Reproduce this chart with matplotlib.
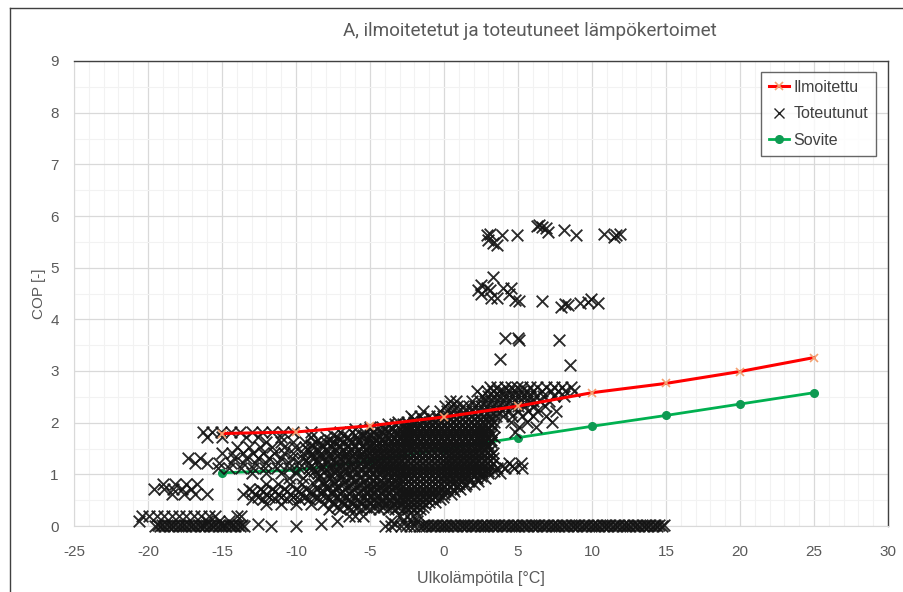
import matplotlib
matplotlib.use("Agg")
import matplotlib.pyplot as plt
from matplotlib.lines import Line2D

plt.rcParams["font.family"] = ["Liberation Sans", "DejaVu Sans"]

# Declared COP curve (manufacturer data)
ilmoitettu_t = [-15, -10, -5, 0, 5, 10, 15, 20, 25]
ilmoitettu_cop = [1.79, 1.82, 1.94, 2.11, 2.32, 2.58, 2.76, 2.99, 3.26]

# Fitted COP curve
sovite_t = [-15, -10, -5, 0, 5, 10, 15, 20, 25]
sovite_cop = [1.03, 1.08, 1.26, 1.49, 1.71, 1.93, 2.14, 2.36, 2.58]

# Measured COP values, grouped by COP level: (cop, [outdoor temperatures])
toteutunut_rows = [
    (2.70, [3.1, 3.6, 4.1, 4.5, 4.9, 5.3, 5.8, 6.3, 6.9, 7.4, 8.0, 8.6]),
    (2.62, [2.2, 2.9, 3.3, 3.7, 4.0, 4.4, 4.8, 5.2, 5.6, 6.0, 6.6, 7.2, 7.7, 8.2, 8.8]),
    (2.52, [2.6, 3.0, 3.4, 3.8, 4.2, 4.6, 5.0, 5.4, 5.8, 6.2, 6.7, 7.4, 8.1]),
    (2.42, [0.4, 0.8, 1.9, 2.4, 2.8, 3.2, 3.6, 4.0, 4.4, 4.8, 5.2, 5.6, 6.0, 6.5, 7.1]),
    (2.32, [0.1, 0.5, 0.9, 1.3, 1.7, 2.1, 2.5, 2.9, 3.3, 3.7, 4.1, 4.5, 5.0, 5.5, 6.1, 6.8]),
    (2.22, [-1.4, -0.3, 0.2, 0.6, 1.0, 1.5, 1.9, 2.3, 2.7, 3.1, 3.5, 3.9, 4.4, 5.0, 5.7, 6.3, 7.6]),
    (2.12, [-2.2, -1.6, -1.0, -0.5, -0.1, 0.3, 0.7, 1.1, 1.5, 1.9, 2.3, 2.7, 3.1, 3.5, 4.0, 4.6,
            5.3, 6.0, 6.9]),
    (2.07, [-2.0, -1.4, -0.8, -0.4, 0.0, 0.4, 0.8, 1.2, 1.6, 2.0, 2.4, 2.8, 3.2]),
    (2.02, [-3.1, -2.5, -2.0, -1.5, -1.0, -0.6, -0.2, 0.2, 0.6, 1.0, 1.4, 1.8, 2.2, 2.6, 3.0, 3.4,
            4.5, 5.6, 7.3]),
    (1.97, [-3.8, -3.3, -2.8, -2.4, -2.0, -1.6, -1.2, -0.8, -0.4, 0.0, 0.4, 0.8, 1.2, 1.6, 2.0,
            2.4, 2.8, 3.2]),
    (1.92, [-5.0, -4.2, -3.6, -3.1, -2.6, -2.2, -1.8, -1.4, -1.0, -0.6, -0.2, 0.2, 0.6, 1.0, 1.4,
            1.8, 2.2, 2.6, 3.0, 3.4, 5.1, 6.2]),
    (1.87, [-6.0, -5.0, -4.5, -4.0, -3.5, -3.0, -2.6, -2.2, -1.8, -1.4, -1.0, -0.6, -0.2, 0.2,
            0.6, 1.0, 1.4, 1.8, 2.2, 2.6, 3.0]),
    (1.82, [-16.3, -15.7, -15.1, -14.4, -13.8, -13.0, -12.3, -11.6, -10.9, -10.2, -9.0, -7.0, -6.2,
            -5.4, -4.8, -4.2, -3.7, -3.2, -2.8, -2.4, -2.0, -1.6, -1.2, -0.8, -0.4, 0.0, 0.4, 0.8,
            1.2, 1.6, 2.0, 2.4, 2.8, 3.2, 4.8]),
    (1.77, [-7.5, -6.8, -6.0, -5.5, -5.0, -4.5, -4.0, -3.6, -3.2, -2.8, -2.4, -2.0, -1.6, -1.2,
            -0.8, -0.4, 0.0, 0.4, 0.8, 1.2, 1.6, 2.0, 2.4, 2.8, 3.2]),
    (1.72, [-16.0, -15.0, -13.4, -12.6, -11.0, -9.0, -8.0, -7.2, -6.5, -5.9, -5.3, -4.8, -4.3, -3.8,
            -3.4, -3.0, -2.6, -2.2, -1.8, -1.4, -1.0, -0.6, -0.2, 0.2, 0.6, 1.0, 1.4, 1.8, 2.2,
            2.6, 3.0, 3.4]),
    (1.67, [-8.5, -7.7, -7.0, -6.4, -5.8, -5.2, -4.6, -4.1, -3.6, -3.2, -2.8, -2.4, -2.0, -1.6,
            -1.2, -0.8, -0.4, 0.0, 0.4, 0.8, 1.2, 1.6, 2.0, 2.4, 2.8, 3.2]),
    (1.62, [-12.0, -11.0, -10.2, -9.4, -8.7, -8.0, -7.4, -6.8, -6.3, -5.8, -5.3, -4.8, -4.4, -4.0,
            -3.6, -3.2, -2.8, -2.4, -2.0, -1.6, -1.2, -0.8, -0.4, 0.0, 0.4, 0.8, 1.2, 1.6, 2.0,
            2.4, 2.8, 3.2]),
    (1.57, [-9.0, -8.3, -7.7, -7.1, -6.5, -6.0, -5.5, -5.0, -4.6, -4.2, -3.8, -3.4, -3.0, -2.6,
            -2.2, -1.8, -1.4, -1.0, -0.6, -0.2, 0.2, 0.6, 1.0, 1.4, 1.8, 2.2, 2.6, 3.0]),
    (1.52, [-14.0, -13.2, -12.4, -11.6, -10.8, -10.1, -9.4, -8.8, -8.2, -7.6, -7.0, -6.5, -6.0,
            -5.5, -5.0, -4.6, -4.2, -3.8, -3.4, -3.0, -2.6, -2.2, -1.8, -1.4, -1.0, -0.6, -0.2,
            0.2, 0.6, 1.0, 1.4, 1.8, 2.2, 2.6, 3.0]),
    (1.47, [-9.2, -8.5, -7.9, -7.3, -6.8, -6.3, -5.8, -5.3, -4.9, -4.5, -4.1, -3.7, -3.3, -2.9,
            -2.5, -2.1, -1.7, -1.3, -0.9, -0.5, -0.1, 0.3, 0.7, 1.1, 1.5, 1.9, 2.3, 2.7, 3.1]),
    (1.42, [-15.0, -14.3, -13.6, -12.9, -12.2, -11.5, -10.8, -10.2, -9.5, -8.9, -8.3, -7.7, -7.1,
            -6.6, -6.1, -5.6, -5.1, -4.7, -4.3, -3.9, -3.5, -3.1, -2.7, -2.3, -1.9, -1.5, -1.1,
            -0.7, -0.3, 0.1, 0.5, 0.9, 1.3, 1.7, 2.1, 2.5, 2.9, 3.3]),
    (1.37, [-9.0, -8.4, -7.8, -7.2, -6.7, -6.2, -5.7, -5.2, -4.8, -4.4, -4.0, -3.6, -3.2, -2.8,
            -2.4, -2.0, -1.6, -1.2, -0.8, -0.4, 0.0, 0.4, 0.8, 1.2, 1.6, 2.0, 2.4, 2.8, 3.2]),
    (1.32, [-17.3, -16.5, -14.2, -13.4, -12.6, -11.8, -11.0, -10.3, -9.6, -8.9, -8.3, -7.7, -7.1,
            -6.6, -6.1, -5.6, -5.1, -4.7, -4.3, -3.9, -3.5, -3.1, -2.7, -2.3, -1.9, -1.5, -1.1,
            -0.7, -0.3, 0.1, 0.5, 0.9, 1.3, 1.7, 2.1, 2.5, 2.9, 3.3]),
    (1.27, [-9.3, -8.6, -8.0, -7.4, -6.9, -6.4, -5.9, -5.4, -4.9, -4.5, -4.1, -3.7, -3.3, -2.9,
            -2.5, -2.1, -1.7, -1.3, -0.9, -0.5, -0.1, 0.3, 0.7, 1.1, 1.5, 1.9, 2.3, 2.7, 3.1]),
    (1.22, [-16.8, -16.0, -15.2, -14.4, -13.6, -12.8, -12.0, -11.2, -10.5, -9.8, -9.1, -8.5, -7.9,
            -7.3, -6.7, -6.2, -5.7, -5.2, -4.7, -4.3, -3.9, -3.5, -3.1, -2.7, -2.3, -1.9, -1.5,
            -1.1, -0.7, -0.3, 0.1, 0.5, 0.9, 1.3, 1.7, 2.1, 2.5, 2.9, 3.3, 4.4, 5.2]),
    (1.17, [-9.0, -8.2, -7.5, -6.9, -6.3, -5.8, -5.3, -4.8, -4.4, -4.0, -3.6, -3.2, -2.8, -2.4,
            -2.0, -1.6, -1.2, -0.8, -0.4, 0.0, 0.4, 0.8, 1.2, 1.6, 2.0, 2.4, 2.8, 3.2, 3.9, 4.6]),
    (1.12, [-15.3, -14.5, -13.7, -12.9, -12.1, -11.3, -10.5, -9.8, -9.1, -8.4, -7.8, -7.2, -6.6,
            -6.1, -5.6, -5.1, -4.6, -4.2, -3.8, -3.4, -3.0, -2.6, -2.2, -1.8, -1.4, -1.0, -0.6,
            -0.2, 0.2, 0.6, 1.0, 1.4, 1.8, 2.2, 2.6, 3.0, 3.6, 4.1, 4.7, 5.3]),
    (1.07, [-8.8, -8.1, -7.4, -6.8, -6.2, -5.6, -5.1, -4.6, -4.2, -3.8, -3.4, -3.0, -2.6, -2.2,
            -1.8, -1.4, -1.0, -0.6, -0.2, 0.2, 0.6, 1.0, 1.4, 1.8, 2.2, 2.6, 3.0, 3.4]),
    (1.02, [-13.0, -12.0, -11.0, -10.0, -9.2, -8.5, -7.8, -7.1, -6.5, -5.9, -5.3, -4.8, -4.3, -3.8,
            -3.4, -3.0, -2.6, -2.2, -1.8, -1.4, -1.0, -0.6, -0.2, 0.2, 0.6, 1.0, 1.4, 1.8, 2.2,
            2.6, 3.0, 3.8]),
    (0.97, [-8.4, -7.6, -6.9, -6.2, -5.6, -5.0, -4.5, -4.0, -3.6, -3.2, -2.8, -2.4, -2.0, -1.6,
            -1.2, -0.8, -0.4, 0.0, 0.4, 0.8, 1.2, 1.6, 2.0, 2.5]),
    (0.92, [-10.5, -9.5, -8.6, -7.8, -7.0, -6.3, -5.7, -5.1, -4.6, -4.1, -3.6, -3.1, -2.7, -2.3,
            -1.9, -1.5, -1.1, -0.7, -0.3, 0.1, 0.5, 0.9, 1.3, 1.7, 2.2, 2.8]),
    (0.87, [-8.2, -7.4, -6.7, -6.0, -5.4, -4.8, -4.3, -3.8, -3.3, -2.8, -2.4, -2.0, -1.6, -1.2,
            -0.8, -0.4, 0.0, 0.4, 0.8, 1.2, 1.7, 2.3]),
    (0.82, [-19.0, -18.2, -17.4, -16.7, -12.0, -11.2, -10.4, -9.6, -8.8, -8.1, -7.4, -6.8, -6.2,
            -5.6, -5.0, -4.5, -4.0, -3.5, -3.0, -2.6, -2.2, -1.8, -1.4, -1.0, -0.6, -0.2, 0.2,
            0.6, 1.0, 1.5, 2.0]),
    (0.77, [-8.0, -7.2, -6.5, -5.9, -5.3, -4.8, -4.3, -3.8, -3.3, -2.8, -2.4, -2.0, -1.6, -1.2,
            -0.8, -0.4, 0.0, 0.4, 0.9, 1.4]),
    (0.72, [-19.6, -18.9, -18.3, -17.7, -17.1, -13.2, -12.4, -11.6, -10.8, -10.0, -9.3, -8.6, -7.9,
            -7.3, -6.7, -6.1, -5.5, -5.0, -4.5, -4.0, -3.5, -3.0, -2.6, -2.2, -1.8, -1.4, -1.0,
            -0.6, -0.2, 0.2, 0.6, 1.1]),
    (0.67, [-13.0, -12.2, -11.4, -10.6, -9.8, -9.0, -8.2, -7.5, -6.9, -6.3, -5.7, -5.2, -4.7,
            -4.2, -3.7, -3.2, -2.8, -2.4, -2.0, -1.6, -1.2, -0.8, -0.4, 0.1, 0.7]),
    (0.62, [-18.4, -17.6, -16.8, -16.0, -13.6, -12.8, -12.0, -11.2, -10.4, -9.7, -9.0, -8.3, -7.6,
            -7.0, -6.4, -5.8, -5.2, -4.7, -4.2, -3.7, -3.2, -2.8, -2.4, -2.0, -1.6, -1.2, -0.8,
            -0.4, 0.0, 0.5]),
    (0.57, [-12.6, -11.8, -11.0, -10.2, -9.4, -8.7, -8.0, -7.3, -6.7, -6.1, -5.5, -5.0, -4.5,
            -4.0, -3.5, -3.0, -2.6, -2.2, -1.8, -1.4, -1.0, -0.6, -0.1]),
    (0.52, [-13.0, -12.2, -11.4, -10.6, -9.8, -9.1, -8.4, -7.7, -7.0, -6.4, -5.8, -5.2, -4.7, -4.2,
            -3.7, -3.2, -2.8, -2.4, -2.0, -1.6, -1.2, -0.8, -0.3]),
    (0.47, [-7.5, -6.9, -6.3, -5.7, -5.1, -4.6, -4.1, -3.6, -3.1, -2.7, -2.3, -1.9, -1.5, -1.0,
            -0.6]),
    (0.42, [-12.0, -11.0, -10.0, -9.0, -8.2, -7.5, -6.8, -6.2, -5.6, -5.0, -4.4, -3.9, -3.4, -2.9,
            -2.5, -2.1, -1.7, -1.3]),
    (0.37, [-7.2, -6.5, -5.9, -5.3, -4.7, -4.1, -3.6, -3.1, -2.6, -2.2, -1.8, -1.4]),
    (0.32, [-7.8, -7.0, -6.3, -5.6, -5.0, -4.4, -3.8, -3.3, -2.8, -2.4, -2.0, -1.6]),
    (0.20, [-20.4, -19.9, -19.4, -18.9, -18.4, -17.9, -17.4, -16.9, -16.4, -15.9, -15.5, -14.0,
            -13.7, -6.4, -6.0, -5.5, -3.0, -2.5, -2.1, -1.7]),
    (0.10, [-20.6, -16.0, -15.2, -14.5, -7.2, -3.6, -2.8, -2.2, -1.8]),
    (0.04, [-12.6, -8.3, -3.3]),
    (0.00, [-19.5, -19.2, -18.9, -18.6, -18.3, -18.0, -17.7, -17.4, -17.1, -16.8, -16.5, -16.2,
            -15.9, -15.6, -15.3, -15.0, -14.7, -14.4, -14.1, -13.8, -13.5, -11.7, -10.0,
            -4.0, -3.6, -2.9, -2.6, -2.3, -2.0, -1.7, -1.5, -1.2, -0.9, -0.6, -0.3, 0.0, 0.3,
            0.6, 0.9, 1.2, 1.5, 1.8, 2.1, 2.4, 2.7, 3.0, 3.3, 3.6, 3.9, 4.2, 4.5, 4.8, 5.1, 5.4,
            5.7, 6.0, 6.3, 6.6, 6.9, 7.2, 7.5, 7.8, 8.1, 8.4, 8.7, 9.0, 9.3, 9.6, 9.9, 10.2,
            10.5, 10.8, 11.1, 11.4, 11.7, 12.0, 12.3, 12.6, 12.9, 13.2, 13.5, 13.8, 14.1, 14.4,
            14.7]),
    (0.01, [-19.35, -19.05, -18.75, -18.45, -18.15, -17.85, -17.55, -17.25, -16.95, -16.65,
            -16.35, -16.05, -15.75, -15.45, -15.15, -14.85, -14.55, -14.25, -13.95, -13.65,
            -1.35, -1.05, -0.75, -0.45, -0.15, 0.15, 0.45, 0.75, 1.05, 1.35, 1.65, 1.95, 2.25,
            2.55, 2.85, 3.15, 3.45, 3.75, 4.05, 4.35, 4.65, 4.95, 5.25, 5.55, 5.85, 6.15, 6.45,
            6.75, 7.05, 7.35, 7.65, 7.95, 8.25, 8.55, 8.85, 9.15, 9.45, 9.75, 10.05, 10.35,
            10.65, 10.95, 11.25, 11.55, 11.85, 12.15, 12.45, 12.75, 13.05, 13.35, 13.65, 13.95,
            14.25, 14.55, 14.85]),
]

# Isolated high measured values
korkea_t = [2.9, 3.1, 3.0, 3.6, 3.3, 3.9, 4.9, 6.3, 6.4, 6.6, 6.9, 7.0, 8.1, 8.9, 10.8, 11.5,
            11.6, 11.9,
            2.3, 2.5, 2.9, 3.1, 2.5, 3.3, 3.2, 3.6, 4.0, 4.4, 4.5, 4.8, 5.1, 6.6, 7.9, 8.2, 8.4,
            9.2, 9.7, 9.9, 10.4,
            4.1, 5.0, 5.1, 7.8, 3.8, 8.5]
korkea_cop = [5.63, 5.66, 5.53, 5.44, 5.47, 5.63, 5.63, 5.80, 5.82, 5.79, 5.76, 5.70, 5.73, 5.63,
              5.65, 5.60, 5.63, 5.66,
              4.57, 4.66, 4.60, 4.57, 4.50, 4.82, 4.41, 4.41, 4.60, 4.50, 4.60, 4.37, 4.36, 4.36,
              4.24, 4.30, 4.28, 4.32, 4.34, 4.40, 4.32,
              3.63, 3.63, 3.60, 3.60, 3.23, 3.12]

x_ticks = [-25, -20, -15, -10, -5, 0, 5, 10, 15, 20, 25, 30]
y_ticks = [0, 1, 2, 3, 4, 5, 6, 7, 8, 9]

title = "A, ilmoitetetut ja toteutuneet lämpökertoimet"
x_label = "Ulkolämpötila [°C]"
y_label = "COP [-]"

tot_t = [t for cop, temps in toteutunut_rows for t in temps] + korkea_t
tot_cop = [cop for cop, temps in toteutunut_rows for _ in temps] + korkea_cop

W, H = 904, 592
fig = plt.figure(figsize=(W / 100, H / 100), dpi=100)
fig.patch.set_facecolor("white")

L, R, T, B = 74, 888, 61, 526
ax = fig.add_axes([L / W, 1 - B / H, (R - L) / W, (B - T) / H])

text_col = "#595959"

ax.plot(sovite_t, sovite_cop, color="#00B050", lw=2.0, marker="o", ms=5.5,
        mfc="#0E9A52", mec="#0E9A52", zorder=2, label="Sovite")
ax.scatter(tot_t, tot_cop, marker="x", s=70, c="#141414", linewidths=1.35, alpha=0.9,
           zorder=3, clip_on=False, label="Toteutunut")
ax.plot(ilmoitettu_t, ilmoitettu_cop, color="#FF0000", lw=2.2, marker="x", ms=6,
        mec="#F4A070", mew=1.2, zorder=4, label="Ilmoitettu")

ax.set_xlim(-25, 30)
ax.set_ylim(0, 9)
ax.set_xticks(x_ticks)
ax.set_yticks(y_ticks)
ax.set_xticks([v for v in range(-25, 31)], minor=True)
ax.set_yticks([v / 2 for v in range(0, 19)], minor=True)
ax.set_xticklabels([str(v) for v in x_ticks])
ax.set_yticklabels([str(v) for v in y_ticks])
ax.grid(which="minor", color="#f2f2f2", lw=0.8, zorder=0)
ax.grid(which="major", color="#d9d9d9", lw=0.9, zorder=0)
ax.set_axisbelow(True)
ax.tick_params(which="both", length=0)
ax.tick_params(axis="x", pad=14, labelsize=11, labelcolor=text_col)
ax.tick_params(axis="y", pad=11, labelsize=11, labelcolor=text_col)

for side in ("left", "bottom"):
    ax.spines[side].set_color("#d9d9d9")
for side in ("top", "right"):
    ax.spines[side].set_color("#404040")
    ax.spines[side].set_linewidth(1.0)

ax.set_xlabel(x_label, fontsize=11.5, color=text_col, labelpad=8)
ax.set_ylabel(y_label, fontsize=11, color=text_col, labelpad=3)

fig.text(343 / W, 1 - 31 / H, title, ha="left", va="center", fontsize=13.6,
         color=text_col, family=["Roboto", "DejaVu Sans"])

handles = [
    Line2D([], [], color="#FF0000", lw=2.2, marker="x", ms=6, mec="#F4A070", mew=1.2),
    Line2D([], [], ls="none", marker="x", ms=7, mec="#222222", mew=1.0),
    Line2D([], [], color="#00B050", lw=2.0, marker="o", ms=5.5, mfc="#0E9A52", mec="#0E9A52"),
]
leg = ax.legend(handles, ["Ilmoitettu", "Toteutunut", "Sovite"], loc="upper right",
                bbox_to_anchor=((876 - L) / (R - L), (B - 72) / (B - T)),
                fontsize=11.5, frameon=True, fancybox=False, edgecolor="#404040",
                handlelength=1.25, handletextpad=0.25, labelspacing=0.72,
                borderpad=0.5, borderaxespad=0)
leg.get_frame().set_linewidth(1.0)
for txt in leg.get_texts():
    txt.set_color("#404040")

# outer chart frame
fig.add_artist(Line2D([10 / W, 10 / W], [0, 1 - 8 / H], transform=fig.transFigure,
                      color="#404040", lw=1.0))
fig.add_artist(Line2D([10 / W, 1], [1 - 8 / H, 1 - 8 / H], transform=fig.transFigure,
                      color="#404040", lw=1.0))

fig.savefig("out.png", dpi=100)
